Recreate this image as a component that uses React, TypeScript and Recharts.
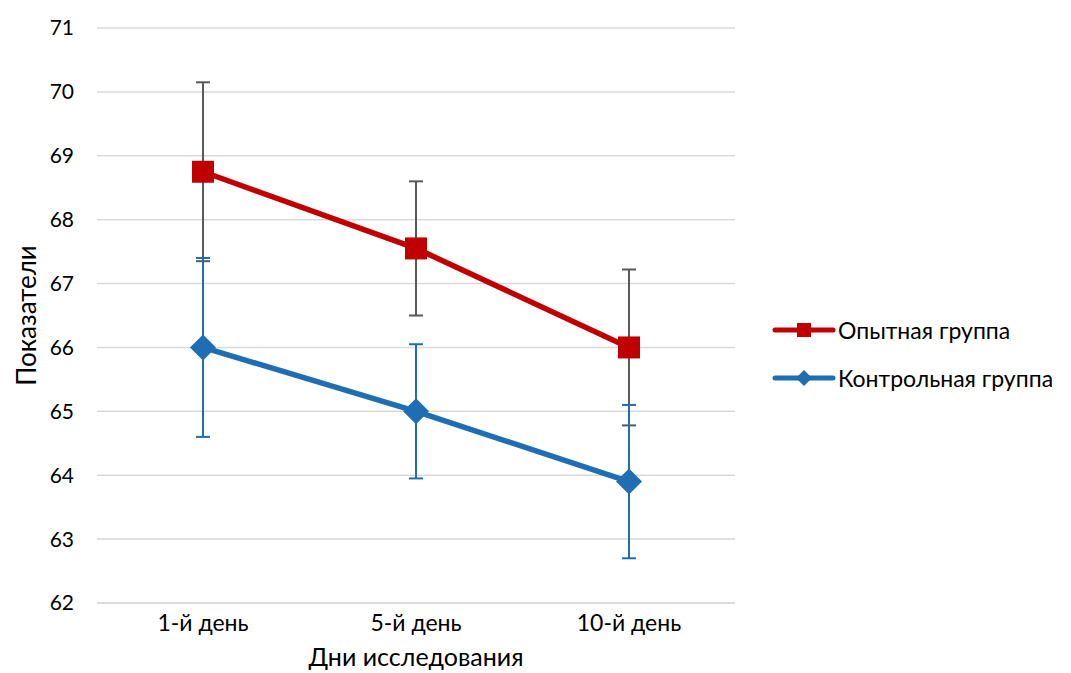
import React from 'react';
import { LineChart, Line, XAxis, YAxis, CartesianGrid, ErrorBar } from 'recharts';

const days = ['1-й день', '5-й день', '10-й день'];
const experimental = [68.75, 67.55, 66.0];
const experimentalErr = [1.4, 1.05, 1.22];
const control = [66.0, 65.0, 63.9];
const controlErr = [1.4, 1.05, 1.2];
const yTicks = [62, 63, 64, 65, 66, 67, 68, 69, 70, 71];

const data = days.map((name, i) => ({
  name,
  exp: experimental[i],
  expErr: experimentalErr[i],
  ctrl: control[i],
  ctrlErr: controlErr[i],
}));

const RED = '#C00000';
const BLUE = '#1F6EB4';
const FONT = 'Lato, "Liberation Sans", sans-serif';

const SquareDot = (props: any) => {
  const { cx, cy } = props;
  if (cx == null || cy == null) return null;
  return <rect x={cx - 11} y={cy - 11} width={22} height={22} fill={RED} />;
};

const DiamondDot = (props: any) => {
  const { cx, cy } = props;
  if (cx == null || cy == null) return null;
  const r = 13;
  return <polygon points={`${cx},${cy - r} ${cx + r},${cy} ${cx},${cy + r} ${cx - r},${cy}`} fill={BLUE} />;
};

const YTitle = (props: any) => {
  const vb = props.viewBox || {};
  const x = 26;
  const y = vb.y + vb.height / 2;
  return (
    <text x={x} y={y} transform={`rotate(-90, ${x}, ${y})`} textAnchor="middle" dominantBaseline="central"
      fontSize={26} fill="#000" fontFamily={FONT}>
      Показатели
    </text>
  );
};

const XTitle = (props: any) => {
  const vb = props.viewBox || {};
  return (
    <text x={vb.x + vb.width / 2} y={656} textAnchor="middle" dominantBaseline="central"
      fontSize={25} fill="#000" fontFamily={FONT}>
      Дни исследования
    </text>
  );
};

const legendItems = [
  { label: 'Опытная группа', color: RED, shape: 'square' },
  { label: 'Контрольная группа', color: BLUE, shape: 'diamond' },
];

const LegendBox = () => (
  <div style={{ position: 'absolute', left: 772, top: 306, fontFamily: FONT, fontSize: 23, color: '#000' }}>
    {legendItems.map((it) => (
      <div key={it.label} style={{ display: 'flex', alignItems: 'center', height: 48 }}>
        <svg width={64} height={20} style={{ marginRight: 2 }}>
          <line x1={3} y1={10} x2={61} y2={10} stroke={it.color} strokeWidth={5} strokeLinecap="round" />
          {it.shape === 'square' ? (
            <rect x={25} y={3} width={14} height={14} fill={it.color} />
          ) : (
            <polygon points="32,2 40,10 32,18 24,10" fill={it.color} />
          )}
        </svg>
        <span>{it.label}</span>
      </div>
    ))}
  </div>
);

export default function App() {
  return (
    <div style={{ position: 'absolute', left: 0, top: 0, width: 1071, height: 673, background: '#fff' }}>
      <LineChart width={1071} height={673} data={data}
        margin={{ top: 28, right: 336, left: 0, bottom: 0 }}>
        <CartesianGrid vertical={false} stroke="#D9D9D9" strokeWidth={1.5} />
        <XAxis dataKey="name" tickLine={false} axisLine={{ stroke: '#D9D9D9', strokeWidth: 1.5 }}
          padding={{ left: 106, right: 106 }}
          tick={{ fontSize: 23, fill: '#000', fontFamily: FONT }} tickMargin={6} height={70}
          label={<XTitle />} />
        <YAxis domain={[62, 71]} ticks={yTicks} tickLine={false} axisLine={false} width={97}
          tick={{ fontSize: 21, fill: '#000', fontFamily: FONT }} tickMargin={17}
          label={<YTitle />} />
        <Line dataKey="exp" name="Опытная группа" stroke={RED} strokeWidth={5.5}
          dot={<SquareDot />} activeDot={false} isAnimationActive={false}>
          <ErrorBar dataKey="expErr" direction="y" width={7} stroke="#595959" strokeWidth={2} />
        </Line>
        <Line dataKey="ctrl" name="Контрольная группа" stroke={BLUE} strokeWidth={5.5}
          dot={<DiamondDot />} activeDot={false} isAnimationActive={false}>
          <ErrorBar dataKey="ctrlErr" direction="y" width={7} stroke={BLUE} strokeWidth={2} />
        </Line>
      </LineChart>
      <LegendBox />
    </div>
  );
}
